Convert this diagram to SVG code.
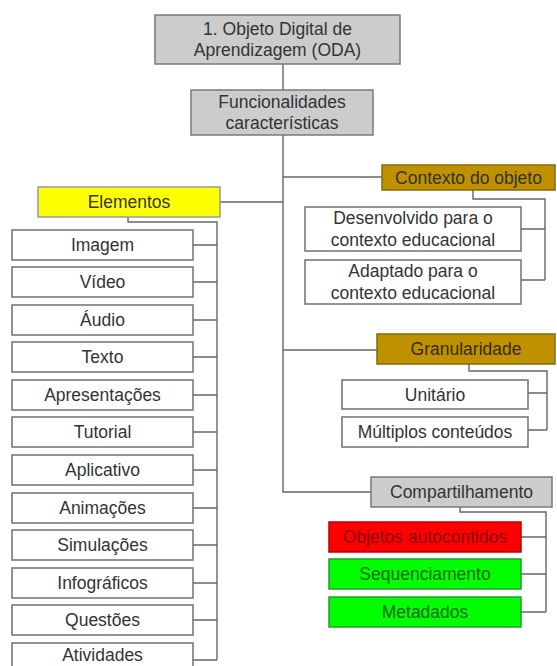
<svg xmlns="http://www.w3.org/2000/svg" width="557" height="666" viewBox="0 0 557 666">
<style>
text{font-family:"Liberation Sans",Arial,sans-serif;font-size:17.5px;fill:#333;text-anchor:middle;dominant-baseline:central}
.g{fill:#cccccc;stroke:#7a7a7a;stroke-width:1.5}
.w{fill:#ffffff;stroke:#707070;stroke-width:1.5}
.y{fill:#ffff00;stroke:#999;stroke-width:1.5}
.o{fill:#bf9000;stroke:#8a6a00;stroke-width:1.5}
.r{fill:#ff0000;stroke:#b00;stroke-width:1.5}
.gr{fill:#00ff00;stroke:#2a9a2a;stroke-width:1.5}
#connectors path{fill:none;stroke:#666;stroke-width:1.4}
</style>
<rect width="557" height="666" fill="#fff"/>
<g id="connectors">
<path d="M283 64V90M283 135V492H371"/>
<path d="M220 202H283M283 177H382M283 350H377"/>
<path d="M128 217V222H217V660"/>
<path d="M193 245H217M193 282H217M193 320H217M193 357H217M193 395H217M193 432H217M193 470H217M193 508H217M193 545H217M193 583H217M193 620H217M193 660H217"/>
<path d="M473 190V199H545V280M521 229H545M521 280H545"/>
<path d="M469 364V371H547V430M528 393H547M528 430H547"/>
<path d="M460 507V512H546V612M521 537H546M521 574H546M521 612H546"/>
</g>
<g id="n-oda"><rect class="g" x="155" y="15" width="245" height="49"/><text x="277.5" y="29">1. Objeto Digital de</text><text x="277.5" y="50">Aprendizagem (ODA)</text></g>
<g id="n-func"><rect class="g" x="191" y="90" width="182" height="45"/><text x="282" y="102">Funcionalidades</text><text x="282" y="123">características</text></g>
<g id="n-elem"><rect class="y" x="38" y="187" width="182" height="30"/><text x="129" y="202">Elementos</text></g>
<g id="n-img"><rect class="w" x="12" y="230" width="181" height="30"/><text x="102.5" y="245">Imagem</text></g>
<g id="n-vid"><rect class="w" x="12" y="267" width="181" height="30"/><text x="102.5" y="282">Vídeo</text></g>
<g id="n-aud"><rect class="w" x="12" y="305" width="181" height="30"/><text x="102.5" y="320">Áudio</text></g>
<g id="n-txt"><rect class="w" x="12" y="342" width="181" height="30"/><text x="102.5" y="357">Texto</text></g>
<g id="n-apr"><rect class="w" x="12" y="380" width="181" height="30"/><text x="102.5" y="395">Apresentações</text></g>
<g id="n-tut"><rect class="w" x="12" y="417" width="181" height="30"/><text x="102.5" y="432">Tutorial</text></g>
<g id="n-apl"><rect class="w" x="12" y="455" width="181" height="30"/><text x="102.5" y="470">Aplicativo</text></g>
<g id="n-ani"><rect class="w" x="12" y="493" width="181" height="30"/><text x="102.5" y="508">Animações</text></g>
<g id="n-sim"><rect class="w" x="12" y="530" width="181" height="30"/><text x="102.5" y="545">Simulações</text></g>
<g id="n-inf"><rect class="w" x="12" y="568" width="181" height="30"/><text x="102.5" y="583">Infográficos</text></g>
<g id="n-que"><rect class="w" x="12" y="605" width="181" height="30"/><text x="102.5" y="620">Questões</text></g>
<g id="n-ati"><rect class="w" x="12" y="643" width="181" height="30"/><text x="102.5" y="655">Atividades</text></g>
<g id="n-ctx"><rect class="o" x="382" y="165" width="173" height="25"/><text x="468.5" y="177.5">Contexto do objeto</text></g>
<g id="n-des"><rect class="w" x="305" y="207" width="216" height="44"/><text x="413" y="218">Desenvolvido para o</text><text x="413" y="240">contexto educacional</text></g>
<g id="n-ada"><rect class="w" x="305" y="260" width="216" height="44"/><text x="413" y="271">Adaptado para o</text><text x="413" y="293">contexto educacional</text></g>
<g id="n-gra"><rect class="o" x="377" y="334" width="178" height="30"/><text x="466" y="349" style="fill:#3a2a00">Granularidade</text></g>
<g id="n-uni"><rect class="w" x="342" y="380" width="186" height="29"/><text x="435" y="394.5">Unitário</text></g>
<g id="n-mul"><rect class="w" x="342" y="417" width="186" height="30"/><text x="435" y="432">Múltiplos conteúdos</text></g>
<g id="n-com"><rect class="g" x="371" y="477" width="181" height="30"/><text x="461.5" y="492">Compartilhamento</text></g>
<g id="n-obj"><rect class="r" x="329" y="522" width="192" height="30"/><text x="425" y="537" style="fill:#8a0000">Objetos autocontidos</text></g>
<g id="n-seq"><rect class="gr" x="329" y="559" width="192" height="30"/><text x="425" y="574" style="fill:#0a6a0a">Sequenciamento</text></g>
<g id="n-met"><rect class="gr" x="329" y="597" width="192" height="30"/><text x="425" y="612" style="fill:#0a6a0a">Metadados</text></g>
</svg>
